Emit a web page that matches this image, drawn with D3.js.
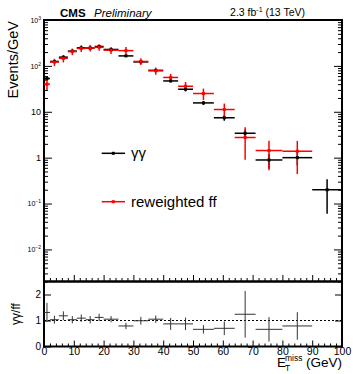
<!DOCTYPE html>
<html>
<head>
<meta charset="utf-8">
<script src="https://cdn.jsdelivr.net/npm/d3@7"></script>
<style>
  body { margin: 0; background: #fff; }
  svg { display: block; }
  text { font-family: "Liberation Sans", Arial, Helvetica, sans-serif; fill: #000; }
</style>
</head>
<body>
<svg id="chart" width="353" height="374"></svg>
<script>
// MET bin edges (GeV)
const binEdges = [0, 2, 5, 8, 11, 14, 17, 20, 25, 30, 35, 40, 45, 50, 57, 64, 71, 80, 90, 100];

// diphoton candidates, Events/GeV
const ggValues = [53, 125, 155, 210, 248, 245, 265, 228, 165, 122, 80, 47, 31, 15.6, 7.4, 3.4, 0.89, 1.0, 0.20];
const ggErrors = [5.1, 6.5, 7.2, 8.4, 9.1, 9.0, 9.4, 6.8, 5.7, 4.9, 4.0, 3.1, 2.5, 1.5, 1.03, 0.70, 0.31, 0.32, 0.14];

// reweighted fake-fake control sample, Events/GeV (empty in the last bin)
const ffValues = [40, 121, 146, 205, 240, 245, 255, 220, 215, 125, 78, 56, 36, 25, 11.2, 2.75, 1.43, 1.38, null];
const ffErrors = [10, 22, 27, 33, 40, 40, 42, 38, 42, 21, 14, 11, 8.5, 7, 3.9, 1.85, 0.9, 0.94, null];

// ratio gg / ff
const ratioValues = [1.31, 1.03, 1.18, 1.03, 1.09, 1.03, 1.12, 1.05, 0.79, 0.99, 1.05, 0.87, 0.87, 0.66, 0.70, 1.24, 0.66, 0.79, null];
const ratioErrors = [0.37, 0.15, 0.17, 0.14, 0.14, 0.14, 0.14, 0.12, 0.12, 0.15, 0.14, 0.23, 0.24, 0.16, 0.26, 0.90, 0.47, 0.53, null];

// axis ticks
const logMajorTicks = [1e-2, 1e-1, 1, 10, 100, 1000];
const logTickLabels = [["10", "\u22122"], ["10", "\u22121"], ["1", null], ["10", null], ["10", "2"], ["10", "3"]];
const xMajorTicks = [0, 10, 20, 30, 40, 50, 60, 70, 80, 90, 100];
const ratioTicks = [0, 1, 2];

const svg = d3.select("#chart");
const L = 44, R = 342, T = 20, M = 281.5, B = 346.5;

const x = d3.scaleLinear().domain([0, 100]).range([L, R]);
const y = d3.scaleLog().domain([0.002, 1000]).range([M, T]);
const yr = d3.scaleLinear().domain([0, 2.5]).range([B, M]);

const bins = ggValues.map((v, i) => ({
  lo: binEdges[i], hi: binEdges[i + 1],
  gg: v, ggE: ggErrors[i],
  ff: ffValues[i], ffE: ffErrors[i],
  r: ratioValues[i], rE: ratioErrors[i]
}));

const logMinor = [];
for (let e = -3; e < 3; e++) {
  for (let k = 2; k <= 9; k++) {
    const v = k * Math.pow(10, e);
    if (v >= 0.002 && v <= 1000) logMinor.push(v);
  }
}
const xMinor = d3.range(0, 101, 2).filter(v => v % 10 !== 0);

function styleAxis(g) {
  g.select(".domain").remove();
  g.selectAll(".tick line").attr("stroke", "#000").attr("stroke-width", 1);
}

// ---------- upper pad axes ----------
const leftAxis = svg.append("g").attr("transform", `translate(${L},0)`)
  .call(d3.axisLeft(y).tickValues(logMajorTicks).tickSizeInner(-8).tickSizeOuter(0).tickPadding(3))
  .call(styleAxis);
leftAxis.selectAll(".tick text").each(function (d, i) {
  const lab = logTickLabels[i];
  const t = d3.select(this).text(null);
  if (lab[1] === null) {
    t.attr("font-size", 9).text(lab[0]);
  } else {
    t.attr("font-size", 7);
    t.append("tspan").text(lab[0]);
    t.append("tspan").attr("font-size", 5).attr("dy", -3).text(lab[1]);
    t.attr("text-anchor", "end").attr("x", -3);
  }
});
svg.append("g").attr("transform", `translate(${L},0)`)
  .call(d3.axisLeft(y).tickValues(logMinor).tickSizeInner(-4).tickSizeOuter(0).tickFormat(""))
  .call(styleAxis);
svg.append("g").attr("transform", `translate(${R},0)`)
  .call(d3.axisRight(y).tickValues(logMajorTicks).tickSizeInner(-8).tickSizeOuter(0).tickFormat(""))
  .call(styleAxis);
svg.append("g").attr("transform", `translate(${R},0)`)
  .call(d3.axisRight(y).tickValues(logMinor).tickSizeInner(-4).tickSizeOuter(0).tickFormat(""))
  .call(styleAxis);
svg.append("g").attr("transform", `translate(0,${M - 0.5})`)
  .call(d3.axisBottom(x).tickValues(xMajorTicks).tickSizeInner(-6).tickSizeOuter(0).tickFormat(""))
  .call(styleAxis);
svg.append("g").attr("transform", `translate(0,${M - 0.5})`)
  .call(d3.axisBottom(x).tickValues(xMinor).tickSizeInner(-3).tickSizeOuter(0).tickFormat(""))
  .call(styleAxis);

// ---------- lower pad axes ----------
const rLeft = svg.append("g").attr("transform", `translate(${L},0)`)
  .call(d3.axisLeft(yr).tickValues(ratioTicks).tickSizeInner(-7).tickSizeOuter(0).tickPadding(3).tickFormat(d3.format("d")))
  .call(styleAxis);
rLeft.selectAll(".tick text").attr("font-size", 10);
svg.append("g").attr("transform", `translate(${R},0)`)
  .call(d3.axisRight(yr).tickValues(ratioTicks).tickSizeInner(-7).tickSizeOuter(0).tickFormat(""))
  .call(styleAxis);
const xAxis = svg.append("g").attr("transform", `translate(0,${B})`)
  .call(d3.axisBottom(x).tickValues(xMajorTicks).tickSizeInner(-6).tickSizeOuter(0).tickPadding(1).tickFormat(d3.format("d")))
  .call(styleAxis);
xAxis.selectAll(".tick text").attr("font-size", 10.5);
svg.append("g").attr("transform", `translate(0,${B})`)
  .call(d3.axisBottom(x).tickValues(xMinor).tickSizeInner(-3).tickSizeOuter(0).tickFormat(""))
  .call(styleAxis);

// ---------- frames ----------
svg.append("rect").attr("x", L).attr("y", T).attr("width", R - L).attr("height", M - T)
  .attr("fill", "none").attr("stroke", "#000").attr("stroke-width", 2);
svg.append("rect").attr("x", L).attr("y", M).attr("width", R - L).attr("height", B - M)
  .attr("fill", "none").attr("stroke", "#000").attr("stroke-width", 2);

// ---------- upper pad: histograms with error crosses ----------
function drawSeries(key, errKey, color) {
  const g = svg.append("g").attr("stroke", color).attr("stroke-width", 1.5).attr("fill", "none");
  const data = bins.filter(b => b[key] !== null);
  g.selectAll("line.h").data(data).join("line").attr("class", "h")
    .attr("x1", b => x(b.lo)).attr("x2", b => x(b.hi))
    .attr("y1", b => y(b[key])).attr("y2", b => y(b[key]));
  g.selectAll("line.v").data(data).join("line").attr("class", "v")
    .attr("x1", b => x((b.lo + b.hi) / 2)).attr("x2", b => x((b.lo + b.hi) / 2))
    .attr("y1", b => y(b[key] - b[errKey])).attr("y2", b => y(b[key] + b[errKey]));
  return data;
}
function drawMarkers(data, key, color) {
  svg.append("g").selectAll("rect").data(data).join("rect")
    .attr("x", b => x((b.lo + b.hi) / 2) - 1.5).attr("y", b => y(b[key]) - 1.5)
    .attr("width", 3).attr("height", 3).attr("fill", color);
}
const ggData = drawSeries("gg", "ggE", "#000");
const ffData = drawSeries("ff", "ffE", "#ff0000");
drawMarkers(ggData, "gg", "#000");
drawMarkers(ffData, "ff", "#ff0000");

// ---------- lower pad: ratio ----------
svg.append("line").attr("x1", L).attr("x2", R).attr("y1", yr(1)).attr("y2", yr(1))
  .attr("stroke", "#000").attr("stroke-width", 1).attr("stroke-dasharray", "2,2");
const rData = bins.filter(b => b.r !== null);
const rg = svg.append("g").attr("stroke", "#333").attr("stroke-width", 1);
rg.selectAll("line.h").data(rData).join("line").attr("class", "h")
  .attr("x1", b => x(b.lo)).attr("x2", b => x(b.hi))
  .attr("y1", b => yr(b.r)).attr("y2", b => yr(b.r));
rg.selectAll("line.v").data(rData).join("line").attr("class", "v")
  .attr("x1", b => x((b.lo + b.hi) / 2)).attr("x2", b => x((b.lo + b.hi) / 2))
  .attr("y1", b => yr(Math.max(0, b.r - b.rE))).attr("y2", b => yr(Math.min(2.5, b.r + b.rE)));

// ---------- legend ----------
const legend = [
  { label: "\u03b3\u03b3", color: "#000", y: 153.3 },
  { label: "reweighted ff", color: "#ff0000", y: 201.7 }
];
legend.forEach(e => {
  svg.append("line").attr("x1", 101.7).attr("x2", 125).attr("y1", e.y).attr("y2", e.y)
    .attr("stroke", e.color).attr("stroke-width", 1.5);
  svg.append("rect").attr("x", 111.8).attr("y", e.y - 1.5).attr("width", 3).attr("height", 3).attr("fill", e.color);
  svg.append("text").attr("x", 131).attr("y", e.y + 5).attr("font-size", 15).text(e.label);
});

// ---------- titles ----------
svg.append("text").attr("x", 60).attr("y", 16.5).attr("font-size", 11.5).attr("font-weight", "bold").text("CMS");
svg.append("text").attr("x", 94).attr("y", 16.5).attr("font-size", 11.5).attr("font-style", "italic").text("Preliminary");
const lumi = svg.append("text").attr("x", 305).attr("y", 16).attr("font-size", 10.5).attr("text-anchor", "end");
lumi.append("tspan").text("2.3 fb");
lumi.append("tspan").attr("font-size", 7).attr("dy", -4).text("-1");
lumi.append("tspan").attr("dy", 4).text(" (13 TeV)");

svg.append("text").attr("transform", "translate(17.5,21) rotate(-90)")
  .attr("text-anchor", "end").attr("font-size", 14.5).text("Events/GeV");
svg.append("text").attr("transform", `translate(19.5,${(M + B) / 2}) rotate(-90)`)
  .attr("text-anchor", "middle").attr("font-size", 12).text("\u03b3\u03b3/ff");

// x title: E_T^miss (GeV)
svg.append("text").attr("x", 277).attr("y", 366.5).attr("font-size", 13.5).text("E");
svg.append("text").attr("x", 285).attr("y", 361).attr("font-size", 8.5).text("miss");
svg.append("text").attr("x", 285).attr("y", 371).attr("font-size", 8.5).text("T");
svg.append("text").attr("x", R).attr("y", 366.5).attr("font-size", 13.5).attr("text-anchor", "end").text("(GeV)");
</script>
</body>
</html>
